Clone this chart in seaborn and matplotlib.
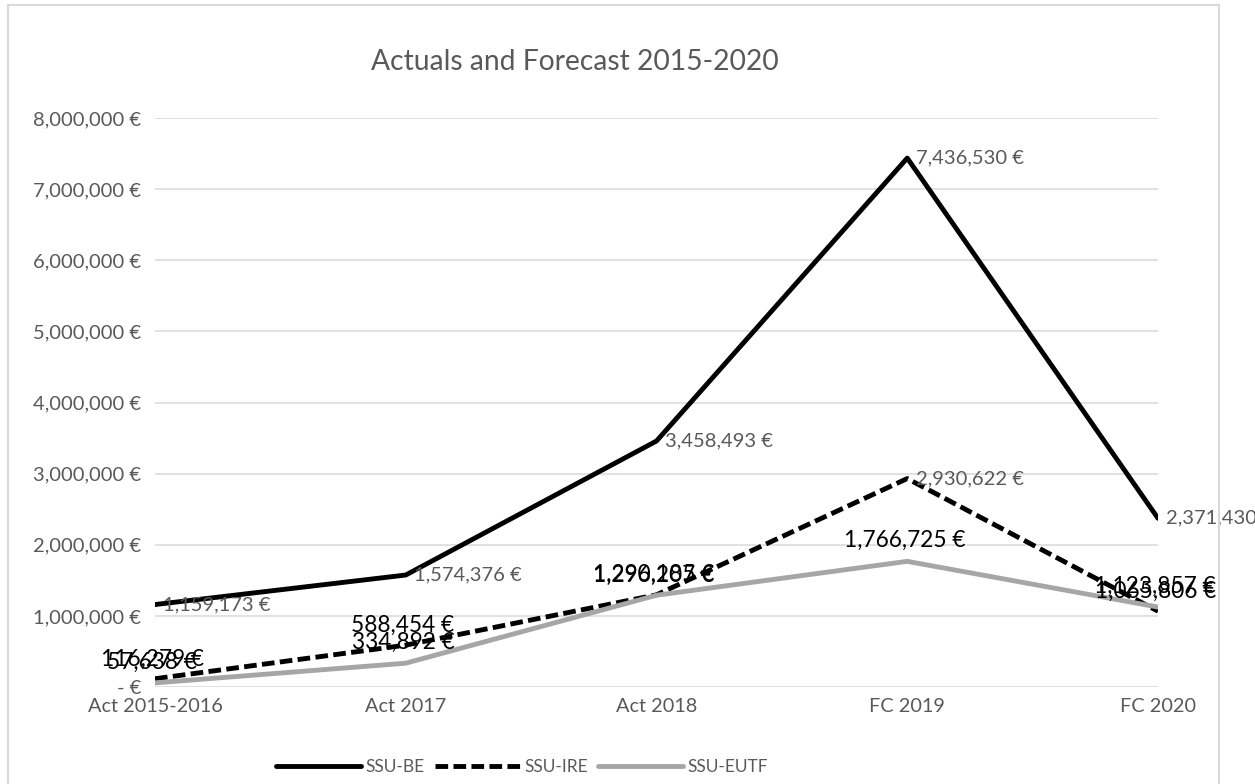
import numpy as np
import pandas as pd
import matplotlib
matplotlib.use("Agg")
import matplotlib.pyplot as plt
from matplotlib.lines import Line2D
from matplotlib.patches import Rectangle
from matplotlib.ticker import FuncFormatter, MultipleLocator
import seaborn as sns

categories = ["Act 2015-2016", "Act 2017", "Act 2018", "FC 2019", "FC 2020"]
ssu_be = [1159173, 1574376, 3458493, 7436530, 2371430]
ssu_ire = [116279, 588454, 1296207, 2930622, 1065806]
ssu_eutf = [57638, 334892, 1290185, 1766725, 1123857]
series_names = ["SSU-BE", "SSU-IRE", "SSU-EUTF"]

df = pd.DataFrame({
    "period": categories * 3,
    "series": np.repeat(series_names, len(categories)),
    "value": ssu_be + ssu_ire + ssu_eutf,
})

sns.set_style("white")
plt.rcParams["font.family"] = ["Lato", "DejaVu Sans"]

grey_txt = "#595959"
colors = {"SSU-BE": "#000000", "SSU-IRE": "#000000", "SSU-EUTF": "#a6a6a6"}
dashes = {"SSU-BE": "", "SSU-IRE": (2.6, 1.1), "SSU-EUTF": ""}
line_w = 3.5

fig = plt.figure(figsize=(12.55, 7.84), dpi=100)
ax = fig.add_axes([155 / 1255, 1 - 687 / 784, (1158 - 155) / 1255, (687 - 118) / 784])

sns.lineplot(data=df, x="period", y="value", hue="series", style="series",
             palette=colors, dashes=dashes, lw=line_w, sort=False, legend=False, ax=ax)

ax.set_xlim(0, len(categories) - 1)
ax.set_ylim(0, 8000000)
ax.yaxis.set_major_locator(MultipleLocator(1000000))
ax.yaxis.set_major_formatter(FuncFormatter(lambda v, p: "- €" if v == 0 else f"{v:,.0f} €"))
ax.grid(axis="y", color="#d9d9d9", lw=1.1)
ax.set_axisbelow(True)
for s in ax.spines.values():
    s.set_visible(False)
ax.tick_params(axis="y", length=0, pad=10, labelsize=14.5, labelcolor=grey_txt)
ax.tick_params(axis="x", length=0, pad=8, labelsize=14.3, labelcolor=grey_txt)
ax.set_xlabel("")
ax.set_ylabel("")

# data labels
for i, v in enumerate(ssu_be):
    ax.annotate(f"{v:,} €", (i, v), xytext=(6, 0), textcoords="offset points",
                ha="left", va="center", fontsize=14.5, color=grey_txt, annotation_clip=False)
for i, v in enumerate(ssu_ire):
    if i == 3:
        ax.annotate(f"{v:,} €", (i, v), xytext=(6, 0), textcoords="offset points",
                    ha="left", va="center", fontsize=14.5, color=grey_txt)
    else:
        ax.annotate(f"{v:,} €", (i, v), xytext=(-2, 14), textcoords="offset points",
                    ha="center", va="center", fontsize=16.3, color="black")
for i, v in enumerate(ssu_eutf):
    ax.annotate(f"{v:,} €", (i, v), xytext=(-2, 15), textcoords="offset points",
                ha="center", va="center", fontsize=16.3, color="black")

fig.text(575 / 1255, 1 - 62 / 784, "Actuals and Forecast 2015-2020",
         ha="center", va="center", fontsize=20.3, color=grey_txt)

handles = [Line2D([], [], color=colors[n], lw=line_w,
                  dashes=dashes[n] if dashes[n] else (None, None)) for n in series_names]
handles[0].set_linestyle("-")
handles[2].set_linestyle("-")
fig.legend(handles, series_names, loc="center", bbox_to_anchor=(522 / 1255, 1 - 767 / 784),
           ncol=3, frameon=False, fontsize=12.5, labelcolor=grey_txt,
           handlelength=4.9, handletextpad=0.25, columnspacing=0.6)

fig.patches.append(Rectangle((8 / 1255, -0.02), (1219 - 8) / 1255, 1.02 - 5 / 784,
                             transform=fig.transFigure, fill=False,
                             edgecolor="#d9d9d9", lw=1.5, clip_on=False))

fig.savefig("out.png", dpi=100)
